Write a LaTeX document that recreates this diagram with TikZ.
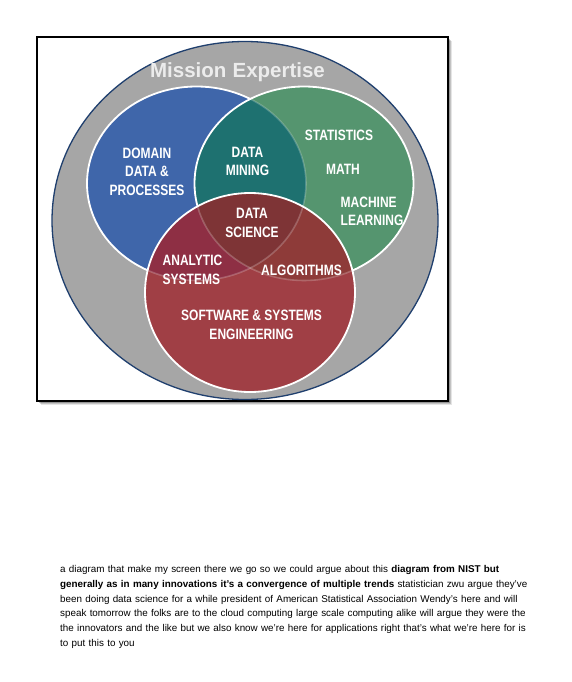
\documentclass[tikz,border=0pt]{standalone}
\usepackage{fontspec}
\setmainfont{Liberation Sans}
\newfontfamily\vennfont[FakeStretch=0.8]{Liberation Sans}
\newfontfamily\titlefont{Liberation Sans}
\usetikzlibrary{positioning,shapes.geometric}

\definecolor{ringgray}{HTML}{A6A6A6}
\definecolor{ringedge}{HTML}{1F3F6E}
\definecolor{domainblue}{HTML}{3F66AA}
\definecolor{mathgreen}{HTML}{55956F}
\definecolor{miningteal}{HTML}{1E7170}
\definecolor{softred}{HTML}{A03F45}
\definecolor{analyticred}{HTML}{8E2F44}
\definecolor{sciencered}{HTML}{7E3436}
\definecolor{algored}{HTML}{8E3B39}
\definecolor{titlegray}{HTML}{ECECEC}

\tikzset{
  x=1pt, y=-1pt,
  venntext/.style={text=white, font=\vennfont\bfseries\fontsize{15}{18.5}\selectfont,
    align=center, inner sep=0pt},
  vennleft/.style={venntext, align=left},
  ringline/.style={white, line width=1.8pt},
  faintline/.style={white, opacity=0.22, line width=1.6pt},
  bodytext/.style={font=\fontsize{9.85}{14.85}\selectfont, align=left, inner sep=0pt,
    anchor=north west, text width=490pt}
}

\begin{document}
\begin{tikzpicture}
\useasboundingbox (0,0) rectangle (571,682);
\fill[white] (0,0) rectangle (571,682);

% drop shadow behind the frame
\foreach \d/\o in {4/0.10,3/0.15,2/0.22,1/0.3}
  \fill[black, opacity=\o] (37+\d,37+\d) rectangle (448+\d,401+\d);
\node[draw=black, line width=1.6pt, fill=white, minimum width=411pt, minimum height=364pt,
      inner sep=0pt] (frame) at (242.5,219) {};

% outer ring: mission expertise
\node[ellipse, draw=ringedge, line width=1.3pt, fill=ringgray,
      minimum width=386pt, minimum height=358pt, inner sep=0pt] (mission) at (245,220.5) {};

% the three sets
\def\blueset{(196.5,183.5) ellipse [x radius=109.5, y radius=97]}
\def\greenset{(304,183.5) ellipse [x radius=109.5, y radius=97]}
\def\redset{(250,292.5) ellipse [x radius=105, y radius=99.5]}

\fill[domainblue] \blueset;
\draw[ringline] \blueset;
\fill[mathgreen] \greenset;
\begin{scope}
  \clip \blueset;
  \fill[miningteal] \greenset;
\end{scope}
\begin{scope}
  \clip \greenset;
  \draw[faintline] \blueset;
\end{scope}
\draw[ringline] \greenset;

% software set and its overlaps
\fill[softred] \redset;
\begin{scope}
  \clip \redset;
  \fill[analyticred] \blueset;
  \fill[algored] \greenset;
  \clip \blueset;
  \fill[sciencered] \greenset;
\end{scope}
\begin{scope}
  \clip \redset;
  \draw[faintline] \blueset;
  \draw[faintline] \greenset;
\end{scope}
\draw[ringline] \redset;

% labels
\node[text=titlegray, font=\titlefont\bfseries\fontsize{20.5}{24}\selectfont, inner sep=0pt]
  (title) at (237.5,72) {Mission\hspace{0.3em}Expertise};
\node[venntext] (domain) at (147,171.5) {DOMAIN\\DATA \&\\PROCESSES};
\node[venntext] (mining) at (247.5,161.5) {DATA\\MINING};
\node[venntext] (stats) at (339,135.5) {STATISTICS};
\node[venntext] (math) at (343,169.5) {MATH};
\node[vennleft, anchor=west] (ml) at (340.5,211.5) {MACHINE\\LEARNING};
\node[venntext] (science) at (252,223) {DATA\\SCIENCE};
\node[vennleft, anchor=west] (analytic) at (162.5,270) {ANALYTIC\\SYSTEMS};
\node[venntext] (algo) at (301.5,270) {ALGORITHMS};
\node[venntext] (software) at (251.5,325) {SOFTWARE \& SYSTEMS\\ENGINEERING};

% caption paragraph
\node[bodytext] (caption) at (60,565) {%
a diagram that make my screen there we go so we could argue about this \textbf{diagram from NIST but}\\
\textbf{generally as in many innovations it's a convergence of multiple trends} statistician zwu argue they've\\
been doing data science for a while president of American Statistical Association Wendy's here and will\\
speak tomorrow the folks are to the cloud computing large scale computing alike will argue they were the\\
the innovators and the like but we also know we're here for applications right that's what we're here for is\\
to put this to you};
\end{tikzpicture}
\end{document}
